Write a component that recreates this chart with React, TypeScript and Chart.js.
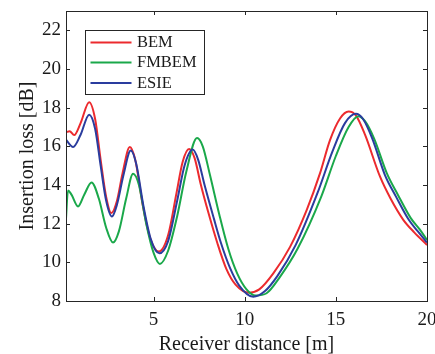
import React, { useEffect, useRef } from "react";
import { Chart, registerables } from "chart.js";

Chart.register(...registerables);

// ---- data ----
const xBEM = [0.19, 0.4, 0.65, 1.0, 1.47, 1.8, 2.1, 2.4, 2.69, 3.0, 3.3, 3.7, 4.0, 4.4, 4.8, 5.29, 5.8, 6.26, 6.6, 6.95, 7.25, 7.6, 8.0, 8.5, 9.0, 9.5, 10.25, 10.8, 11.57, 12.49, 13.4, 14.13, 14.68, 15.23, 15.7, 16.1, 16.6, 17.42, 18.0, 18.7, 19.3, 20.0];
const yBEM = [16.72, 16.78, 16.58, 17.2, 18.28, 17.4, 15.3, 13.4, 12.55, 13.2, 14.6, 15.97, 15.3, 13.0, 11.3, 10.56, 11.4, 13.58, 15.2, 15.86, 15.4, 14.0, 12.6, 11.0, 9.65, 8.85, 8.43, 8.6, 9.43, 10.8, 12.7, 14.6, 16.32, 17.44, 17.8, 17.6, 16.6, 14.44, 13.3, 12.2, 11.55, 10.9];

const xFMBEM = [0.19, 0.31, 0.5, 0.86, 1.2, 1.6, 2.0, 2.4, 2.78, 3.1, 3.5, 3.88, 4.2, 4.6, 5.0, 5.35, 5.8, 6.3, 6.8, 7.39, 7.7, 8.1, 8.6, 9.1, 9.6, 10.1, 10.6, 11.2, 11.9, 12.9, 14.2, 15.0, 15.7, 16.23, 16.6, 17.1, 17.8, 18.4, 19.1, 19.6, 20.0];
const yFMBEM = [12.1, 13.72, 13.5, 12.89, 13.5, 14.13, 13.3, 11.8, 11.02, 11.6, 13.3, 14.58, 14.0, 12.0, 10.5, 9.92, 10.6, 12.4, 14.7, 16.43, 16.0, 14.5, 12.5, 10.7, 9.4, 8.6, 8.28, 8.4, 9.2, 10.7, 13.4, 15.5, 17.0, 17.56, 17.3, 16.4, 14.6, 13.5, 12.3, 11.7, 11.16];

const xESIE = [0.19, 0.59, 1.0, 1.47, 1.8, 2.1, 2.4, 2.72, 3.0, 3.35, 3.75, 4.05, 4.45, 4.85, 5.32, 5.8, 6.3, 6.7, 7.15, 7.45, 7.8, 8.3, 8.7, 9.2, 9.7, 10.47, 11.1, 11.8, 12.8, 14.0, 14.8, 15.5, 16.1, 16.5, 17.0, 17.7, 18.3, 19.0, 19.5, 20.0];
const yESIE = [16.35, 15.97, 16.6, 17.64, 16.9, 15.0, 13.2, 12.37, 13.0, 14.5, 15.78, 15.1, 12.9, 11.2, 10.47, 11.1, 13.2, 15.0, 15.83, 15.3, 14.0, 12.3, 11.0, 9.7, 8.8, 8.22, 8.5, 9.3, 10.9, 13.6, 15.7, 17.2, 17.68, 17.4, 16.4, 14.5, 13.4, 12.2, 11.6, 11.02];

const seriesNames = ["BEM", "FMBEM", "ESIE"];
const xTicks = [5, 10, 15, 20];
const yTicks = [8, 10, 12, 14, 16, 18, 20, 22];
const xTitle = "Receiver distance [m]";
const yTitle = "Insertion loss [dB]";

const COLORS = ["#ec2a2e", "#1aa84a", "#2a3c9e"];
const AXIS = "#262626";
const FONT = "'Times New Roman', 'Liberation Serif', serif";

function pts(xs: number[], ys: number[]) {
  return xs.map((x, i) => ({ x, y: ys[i] }));
}

const framePlugin = {
  id: "frame",
  afterDraw(chart: any) {
    const { ctx, chartArea: a, scales } = chart;
    const xs = scales.x;
    const ys = scales.y;
    ctx.save();
    ctx.strokeStyle = AXIS;
    ctx.lineWidth = 1;
    ctx.strokeRect(Math.round(a.left) + 0.5, Math.round(a.top) + 0.5, Math.round(a.right - a.left), Math.round(a.bottom - a.top));
    const tl = 4;
    ctx.beginPath();
    xTicks.forEach((v) => {
      const px = Math.round(xs.getPixelForValue(v)) + 0.5;
      ctx.moveTo(px, a.bottom);
      ctx.lineTo(px, a.bottom - tl);
      ctx.moveTo(px, a.top);
      ctx.lineTo(px, a.top + tl);
    });
    yTicks.forEach((v) => {
      const py = Math.round(ys.getPixelForValue(v)) + 0.5;
      ctx.moveTo(a.left, py);
      ctx.lineTo(a.left + tl, py);
      ctx.moveTo(a.right, py);
      ctx.lineTo(a.right - tl, py);
    });
    ctx.stroke();

    // axis titles
    ctx.fillStyle = "#1a1a1a";
    ctx.font = `20px ${FONT}`;
    ctx.textAlign = "center";
    ctx.textBaseline = "alphabetic";
    ctx.fillText(xTitle, (a.left + a.right) / 2, 350);
    ctx.save();
    ctx.translate(33, (a.top + a.bottom) / 2);
    ctx.rotate(-Math.PI / 2);
    ctx.fillText(yTitle, 0, 0);
    ctx.restore();

    // legend
    const lx = 85, ly = 30, lw = 119, lh = 64;
    ctx.fillStyle = "#ffffff";
    ctx.fillRect(lx, ly, lw, lh);
    ctx.strokeStyle = AXIS;
    ctx.lineWidth = 1;
    ctx.strokeRect(lx + 0.5, ly + 0.5, lw, lh);
    const rows = [42.5, 62.5, 83];
    ctx.font = `16.5px ${FONT}`;
    ctx.textAlign = "left";
    ctx.textBaseline = "middle";
    seriesNames.forEach((n, i) => {
      ctx.strokeStyle = COLORS[i];
      ctx.lineWidth = 2;
      ctx.beginPath();
      ctx.moveTo(90.5, rows[i]);
      ctx.lineTo(131.5, rows[i]);
      ctx.stroke();
      ctx.fillStyle = "#1a1a1a";
      ctx.fillText(n, 137, rows[i] + 0.5);
    });
    ctx.restore();
  },
};

export default function App() {
  const ref = useRef<HTMLCanvasElement>(null);
  useEffect(() => {
    if (!ref.current) return;
    const datas = [pts(xBEM, yBEM), pts(xFMBEM, yFMBEM), pts(xESIE, yESIE)];
    const orders = [2, 1, 0];
    const chart = new Chart(ref.current, {
      type: "line",
      data: {
        datasets: seriesNames.map((n, i) => ({
          label: n,
          data: datas[i],
          borderColor: COLORS[i],
          backgroundColor: COLORS[i],
          borderWidth: 2,
          pointRadius: 0,
          fill: false,
          cubicInterpolationMode: "monotone" as const,
          order: orders[i],
        })),
      },
      options: {
        responsive: false,
        animation: false,
        layout: { padding: { top: 11, right: 8, left: 0, bottom: 0 } },
        plugins: { legend: { display: false }, tooltip: { enabled: false } },
        scales: {
          x: {
            type: "linear",
            min: 0.2,
            max: 20,
            grid: { display: false, drawTicks: false },
            border: { display: false },
            afterBuildTicks: (s: any) => {
              s.ticks = xTicks.map((v) => ({ value: v }));
            },
            afterFit: (s: any) => {
              s.height = 53;
              s.paddingLeft = 0;
              s.paddingRight = 0;
            },
            ticks: {
              autoSkip: false,
              maxRotation: 0,
              padding: 8,
              color: "#1a1a1a",
              font: { family: FONT, size: 19 },
            },
          },
          y: {
            type: "linear",
            min: 8,
            max: 23,
            grid: { display: false, drawTicks: false },
            border: { display: false },
            afterBuildTicks: (s: any) => {
              s.ticks = yTicks.map((v) => ({ value: v }));
            },
            afterFit: (s: any) => {
              s.width = 66;
              s.paddingTop = 0;
              s.paddingBottom = 0;
            },
            ticks: {
              autoSkip: false,
              padding: 5,
              color: "#1a1a1a",
              font: { family: FONT, size: 19 },
            },
          },
        },
      },
      plugins: [framePlugin],
    });
    return () => chart.destroy();
  }, []);
  return (
    <div style={{ position: "absolute", left: 0, top: 0, width: 435, height: 354, background: "#fff" }}>
      <canvas ref={ref} width={435} height={354} style={{ display: "block" }} />
    </div>
  );
}
